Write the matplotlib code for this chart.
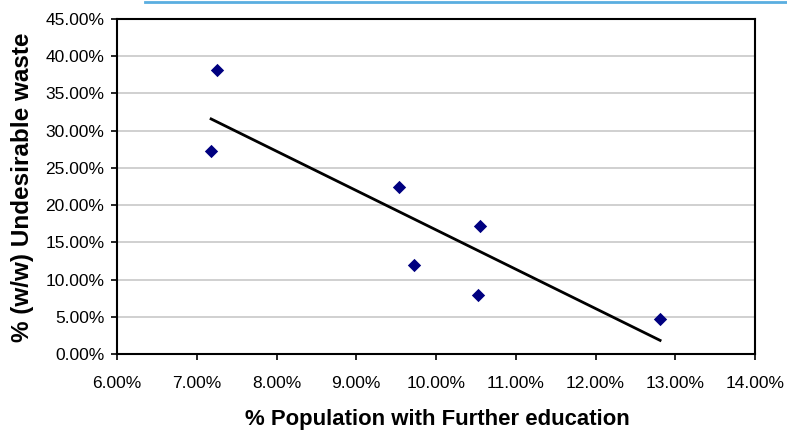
import numpy as np
import matplotlib
matplotlib.use("Agg")
import matplotlib.pyplot as plt
from matplotlib.lines import Line2D

plt.rcParams['font.family'] = ['Liberation Sans', 'DejaVu Sans']

# Data (percent)
further_edu = [7.25, 7.18, 9.53, 10.55, 9.72, 10.53, 12.81]
undesirable = [38.1, 27.3, 22.4, 17.15, 12.0, 7.95, 4.67]
x_ticks = [6, 7, 8, 9, 10, 11, 12, 13, 14]
y_ticks = [0, 5, 10, 15, 20, 25, 30, 35, 40, 45]

fig = plt.figure(figsize=(7.87, 4.32), dpi=100)
ax = fig.add_axes([117/787, 1-354/432, (755-117)/787, (354-19)/432])

# decorative blue line at top
fig.add_artist(Line2D([145/787, 1.0], [1-1.5/432, 1-1.5/432], color='#5aaee0', lw=2.0,
                      transform=fig.transFigure))

ax.scatter(further_edu, undesirable, marker='D', s=46, color='#000080', zorder=3, linewidths=0)

# linear trendline
xs = np.array(further_edu)
ys = np.array(undesirable)
m, b = np.polyfit(xs, ys, 1)
xl = np.array([xs.min(), xs.max()])
ax.plot(xl, m*xl + b, color='black', lw=2.0, zorder=2)

ax.set_xlim(6, 14)
ax.set_ylim(0, 45)
ax.set_xticks(x_ticks)
ax.set_yticks(y_ticks)
ax.set_xticklabels([f"{v:.2f}%" for v in x_ticks], fontsize=12.5)
ax.set_yticklabels([f"{v:.2f}%" for v in y_ticks], fontsize=12.5)
ax.yaxis.grid(True, color='#c8c8c8', lw=1.2)
ax.set_axisbelow(True)
ax.tick_params(direction='out', length=4, width=1.2, color='black')
ax.tick_params(axis='x', pad=12)
ax.tick_params(axis='y', pad=5)
for s in ax.spines.values():
    s.set_linewidth(1.5)
    s.set_color('black')

fig.text(437/787, 1-420/432, '% Population with Further education', fontsize=15.9,
         fontweight='bold', ha='center', va='center')
fig.text(23/787, 1-187/432, '% (w/w) Undesirable waste', fontsize=17.5,
         fontweight='bold', ha='center', va='center', rotation=90)

fig.savefig('out.png', dpi=100)
